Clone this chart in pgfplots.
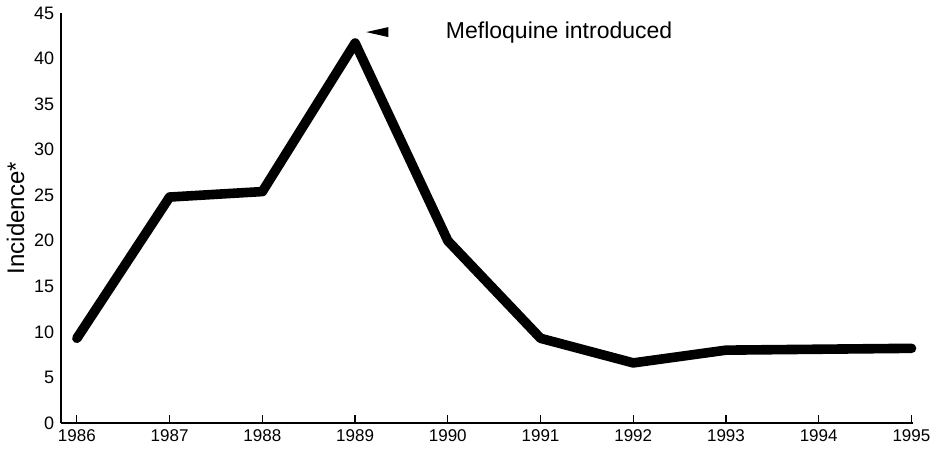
\documentclass[border=0pt]{standalone}
\usepackage{pgfplots}
\pgfplotsset{compat=1.18}
\usepackage{fontspec}
\setmainfont{Liberation Sans}
\begin{document}
\begin{tikzpicture}
\begin{axis}[
  scale only axis,
  width=426pt, height=205pt,
  xmin=1985.83, xmax=1995.02,
  ymin=0, ymax=45,
  axis x line*=bottom, axis y line*=left,
  axis line style={line width=1.1pt, -},
  xtick={1986,...,1995},
  ytick={0,5,...,45},
  xticklabel style={/pgf/number format/1000 sep={}, font=\fontsize{8.5}{9}\selectfont},
  yticklabel style={font=\fontsize{9}{10}\selectfont},
  /pgf/number format/assume math mode=true,
  x tick style={draw=black, line width=0.6pt},
  major tick length=4pt,
  xtick align=inside,
  y tick style={draw=none},
  ylabel={Incidence*},
  ylabel style={font=\fontsize{12}{14}\selectfont, yshift=-2pt},
  clip=false,
]
\addplot[black, line width=4.8pt, line cap=round, line join=round] coordinates {
(1986,9.3) (1987,24.8) (1988,25.4) (1989,41.7) (1990,20.0) (1991,9.3) (1992,6.6) (1993,8.0) (1994,8.1) (1995,8.2)
};
\addplot[black, fill=black, draw=none] coordinates {(1989.12,42.9) (1989.36,43.45) (1989.36,42.35) (1989.12,42.9)};
\node[font=\fontsize{11.5}{13}\selectfont, anchor=center] at (axis cs:1991.2,42.9) {Mefloquine introduced};
\end{axis}
\end{tikzpicture}
\end{document}
